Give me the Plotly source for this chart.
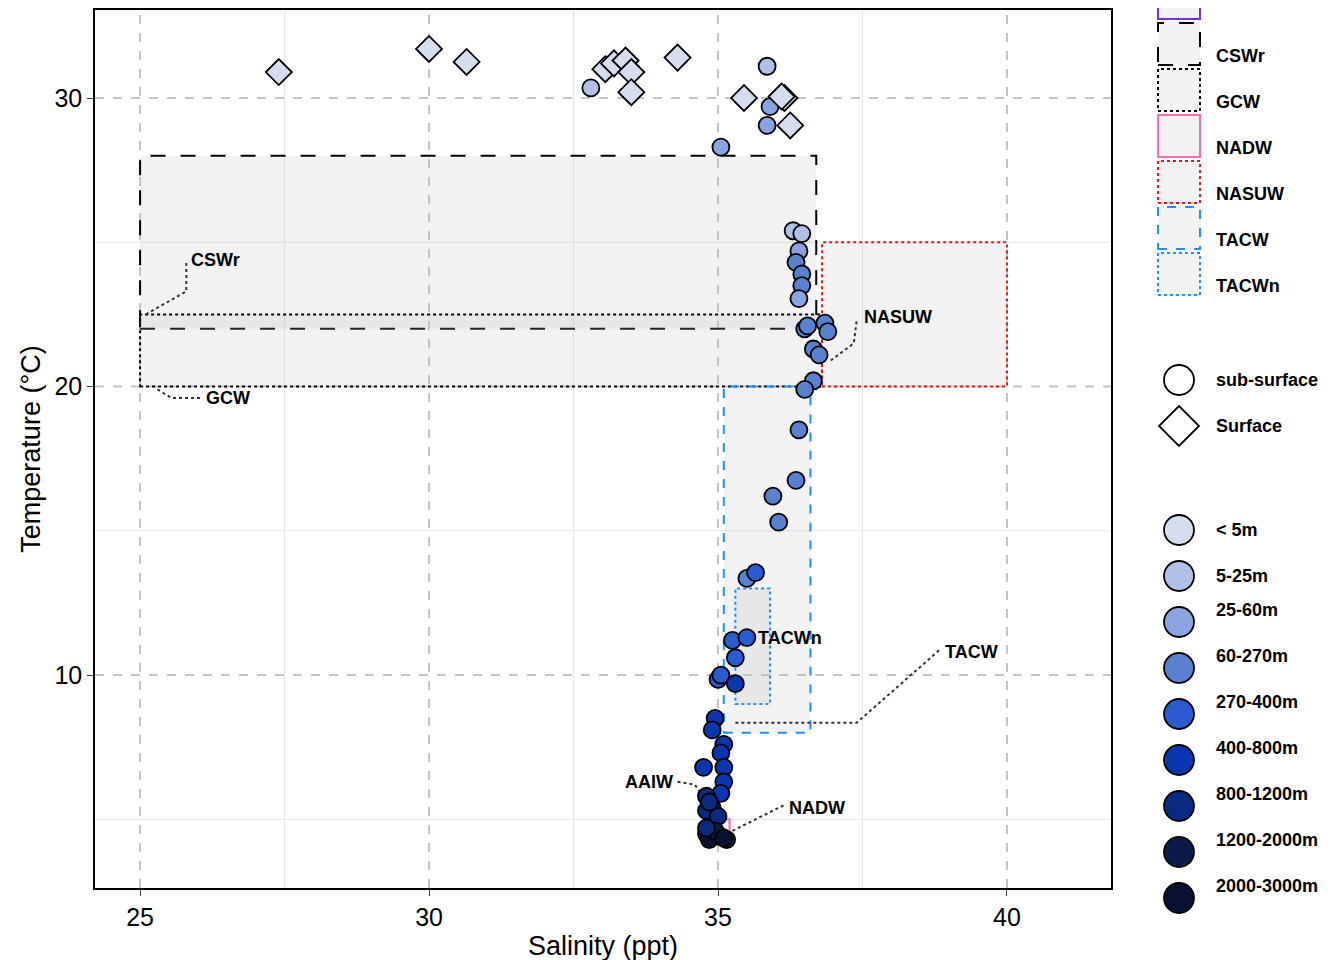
import plotly.graph_objects as go

depth_classes = ["< 5m","5-25m","25-60m","60-270m","270-400m","400-800m","800-1200m","1200-2000m","2000-3000m"]
depth_colors = ["#d5ddee","#b0c0e6","#8ba4df","#5a80d0","#2b5bd0","#0a37b0","#0a2a80","#0b1a48","#0a1030"]

surf_sal = [27.4,30.0,30.65,33.05,33.2,33.4,33.5,33.5,34.3,35.45,36.15,36.1,36.25]
surf_tmp = [30.9,31.7,31.25,31.0,31.2,31.3,30.9,30.2,31.4,30.0,30.0,30.05,29.05]
surf_cls = [0]*13

sub_sal = [32.8,35.85,35.9,35.85,35.05,36.3,36.45,36.4,36.35,36.45,36.45,36.4,
           36.5,36.55,36.85,36.9,36.65,36.75,36.65,36.5,36.4,36.35,35.95,36.05,
           35.5,35.65,35.25,35.5,35.3,35.0,35.05,35.3,
           34.95,34.9,35.1,35.05,34.75,35.1,35.1,35.05,34.8,34.9,34.8,35.0,34.85,
           34.8,34.9,35.05,35.15,34.85,34.95,34.8,35.1]
sub_tmp = [30.35,31.1,29.7,29.05,28.3,25.4,25.3,24.7,24.3,23.9,23.5,23.05,
           22.0,22.1,22.2,21.9,21.3,21.1,20.2,19.9,18.5,16.75,16.2,15.3,
           13.35,13.55,11.2,11.3,10.6,9.85,10.0,9.7,
           8.5,8.1,7.6,7.3,6.8,6.8,6.3,5.9,5.8,5.4,5.3,5.1,5.6,
           4.5,4.4,4.4,4.3,4.3,4.6,4.7,4.35]
sub_cls = [1,1,2,2,2,1,1,2,3,3,3,2,
           3,3,3,3,3,3,3,3,3,3,3,3,
           3,4,4,4,4,4,4,5,
           5,5,5,5,5,5,5,5,6,6,6,6,6,
           7,7,8,7,8,7,6,8]

mass_names = ["CSWr","GCW","NADW","NASUW","TACW","TACWn"]
mass_s0 = [25.0,25.0,34.8,36.8,35.1,35.3]
mass_s1 = [36.7,36.8,35.2,40.0,36.6,35.9]
mass_t0 = [22.0,20.0,4.5,20.0,8.0,9.0]
mass_t1 = [28.0,22.5,5.0,25.0,20.0,13.0]
mass_col = ["black","black","hotpink","#e31a1c","dodgerblue","dodgerblue"]
mass_dash = ["longdash","dot","solid","dot","dash","dot"]

fig = go.Figure()
for s0,s1,t0,t1,c,d in zip(mass_s0,mass_s1,mass_t0,mass_t1,mass_col,mass_dash):
    fig.add_shape(type="rect",x0=s0,x1=s1,y0=t0,y1=t1,fillcolor="rgba(190,190,190,0.2)",
                  line=dict(color=c,width=2,dash=d),layer="below")

labels = [("CSWr",25.85,24.4,[25.1,25.8,25.8],[22.5,23.3,24.3]),
          ("GCW",26.1,19.6,[25.3,25.55,26.05],[19.9,19.6,19.6]),
          ("NASUW",37.5,22.4,[36.95,37.35,37.4],[20.9,21.5,22.3]),
          ("TACWn",35.65,11.3,None,None),
          ("TACW",38.9,10.8,[35.3,37.4,38.85],[8.35,8.35,10.9]),
          ("NADW",36.2,5.4,[35.25,35.85,36.15],[4.6,5.2,5.5])]
for name,x,y,lx,ly in labels:
    fig.add_annotation(x=x,y=y,text="<b>"+name+"</b>",showarrow=False,xanchor="left",
                       font=dict(size=18,color="black",family="Liberation Sans"))
    if lx:
        fig.add_trace(go.Scatter(x=lx,y=ly,mode="lines",line=dict(color="#333",width=2,dash="dot"),showlegend=False,hoverinfo="skip"))
fig.add_annotation(x=34.25,y=6.3,text="<b>AAIW</b>",showarrow=False,xanchor="right",
                   font=dict(size=18,color="black",family="Liberation Sans"))
fig.add_trace(go.Scatter(x=[34.3,34.6,34.8],y=[6.3,6.2,5.6],mode="lines",line=dict(color="#333",width=2,dash="dot"),showlegend=False,hoverinfo="skip"))

fig.add_trace(go.Scatter(x=sub_sal,y=sub_tmp,mode="markers",showlegend=False,
    marker=dict(symbol="circle",size=17,color=[depth_colors[i] for i in sub_cls],line=dict(color="black",width=1.8))))
fig.add_trace(go.Scatter(x=surf_sal,y=surf_tmp,mode="markers",showlegend=False,
    marker=dict(symbol="diamond",size=20,color=[depth_colors[i] for i in surf_cls],line=dict(color="black",width=1.8))))

for v in [27.5,32.5,37.5]:
    fig.add_shape(type="line",x0=v,x1=v,y0=0,y1=1,yref="paper",line=dict(color="#e6e6e6",width=1),layer="below")
for v in [5,15,25]:
    fig.add_shape(type="line",y0=v,y1=v,x0=0,x1=1,xref="paper",line=dict(color="#e6e6e6",width=1),layer="below")
for v in [25,30,35,40]:
    fig.add_shape(type="line",x0=v,x1=v,y0=0,y1=1,yref="paper",line=dict(color="#c4c4c4",width=2,dash="dash"),layer="below")
for v in [10,20,30]:
    fig.add_shape(type="line",y0=v,y1=v,x0=0,x1=1,xref="paper",line=dict(color="#c4c4c4",width=2,dash="dash"),layer="below")

L,R,T,B = 87,1103,2,880
def px(x): return (x-L)/(R-L)
def py(y): return (B-y)/(B-T)
lf = dict(size=18,color="black",family="Liberation Sans")
box_col = ["#7b2fd0"]+mass_col
box_dash = ["solid"]+mass_dash
box_names = [None]+mass_names
for i,(n,c,d) in enumerate(zip(box_names,box_col,box_dash)):
    yc = -10+46*i
    fig.add_shape(type="rect",xref="paper",yref="paper",x0=px(1150),x1=px(1192),y0=py(yc+21),y1=py(yc-21),
                  fillcolor="#f2f2f2",line=dict(color=c,width=2,dash=d))
    if n:
        fig.add_annotation(xref="paper",yref="paper",x=px(1206),y=py(yc),text="<b>"+n+"</b>",showarrow=False,xanchor="left",font=lf)
def circ(xc,yc,r,color):
    fig.add_shape(type="circle",xref="paper",yref="paper",x0=px(xc-r),x1=px(xc+r),y0=py(yc+r),y1=py(yc-r),
                  fillcolor=color,line=dict(color="black",width=1.8))
circ(1171,372,15,"white")
fig.add_annotation(xref="paper",yref="paper",x=px(1206),y=py(372),text="<b>sub-surface</b>",showarrow=False,xanchor="left",font=lf)
r=20
path = f"M {px(1171)} {py(418-r)} L {px(1171+r)} {py(418)} L {px(1171)} {py(418+r)} L {px(1171-r)} {py(418)} Z"
fig.add_shape(type="path",xref="paper",yref="paper",path=path,fillcolor="white",line=dict(color="black",width=1.8))
fig.add_annotation(xref="paper",yref="paper",x=px(1206),y=py(418),text="<b>Surface</b>",showarrow=False,xanchor="left",font=lf)
for i,(n,c) in enumerate(zip(depth_classes,depth_colors)):
    yc = 522+46*i
    circ(1171,yc,15,c)
    fig.add_annotation(xref="paper",yref="paper",x=px(1206),y=py(yc),text="<b>"+n+"</b>",showarrow=False,xanchor="left",font=lf)

fig.update_layout(width=1344,height=960,margin=dict(l=87,r=241,t=2,b=80,autoexpand=False),
    plot_bgcolor="white",paper_bgcolor="white",showlegend=False,
    font=dict(family="Liberation Sans",color="black"))
fig.update_xaxes(range=[24.22,41.8],tickvals=[25,30,35,40],showgrid=False,zeroline=False,
    showline=True,mirror=True,linecolor="black",linewidth=1.5,ticks="outside",ticklen=6,
    tickfont=dict(size=25),title=dict(text="Salinity (ppt)",font=dict(size=27),standoff=6))
fig.update_yaxes(range=[2.62,33.05],tickvals=[10,20,30],showgrid=False,zeroline=False,
    showline=True,mirror=True,linecolor="black",linewidth=1.5,ticks="outside",ticklen=6,
    tickfont=dict(size=25),title=dict(text="Temperature (°C)",font=dict(size=27),standoff=6))
fig.write_html("out.html")
